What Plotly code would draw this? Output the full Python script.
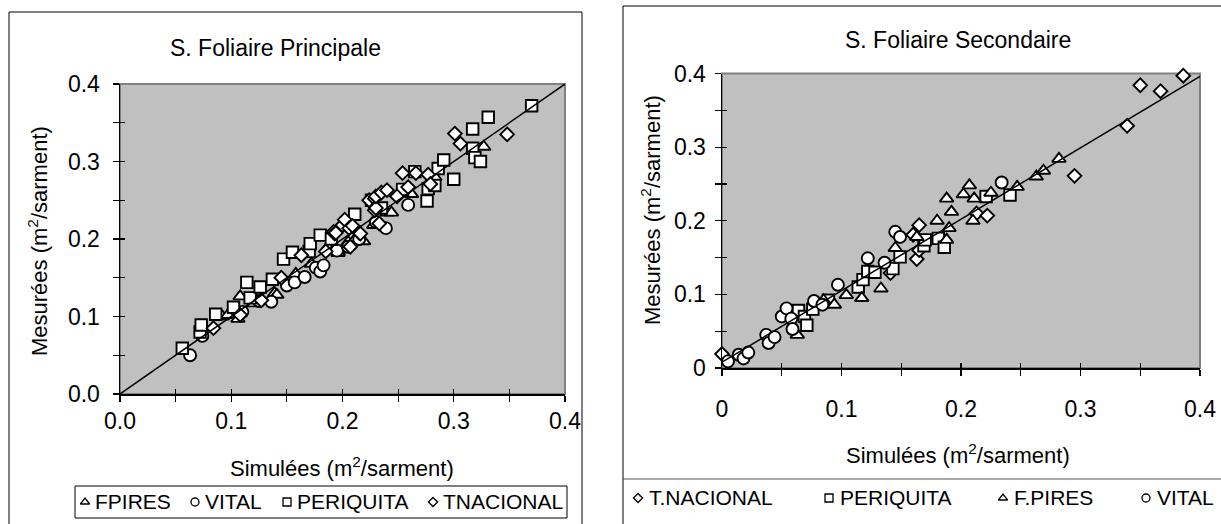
import plotly.graph_objects as go

# ---------------- Left panel: S. Foliaire Principale ----------------
fpires_sim_L = [0.092, 0.097, 0.106, 0.108, 0.120, 0.139, 0.141, 0.158, 0.172, 0.187, 0.196, 0.196, 0.205, 0.212, 0.219, 0.228, 0.240, 0.244, 0.262, 0.283, 0.327]
fpires_mes_L = [0.100, 0.102, 0.097, 0.126, 0.117, 0.130, 0.128, 0.155, 0.168, 0.190, 0.184, 0.182, 0.196, 0.201, 0.197, 0.218, 0.234, 0.234, 0.258, 0.280, 0.319]

vital_sim_L = [0.063, 0.074, 0.110, 0.125, 0.136, 0.150, 0.157, 0.166, 0.176, 0.180, 0.183, 0.195, 0.205, 0.215, 0.230, 0.239, 0.259]
vital_mes_L = [0.050, 0.075, 0.106, 0.120, 0.119, 0.140, 0.144, 0.151, 0.163, 0.158, 0.166, 0.185, 0.190, 0.200, 0.222, 0.214, 0.244]

periq_sim_L = [0.056, 0.072, 0.073, 0.086, 0.102, 0.114, 0.117, 0.126, 0.137, 0.147, 0.155, 0.170, 0.171, 0.180, 0.190, 0.211, 0.226, 0.235, 0.254, 0.265, 0.276, 0.277, 0.283, 0.286, 0.291, 0.300, 0.317, 0.317, 0.319, 0.324, 0.331, 0.370]
periq_mes_L = [0.059, 0.080, 0.089, 0.103, 0.112, 0.144, 0.124, 0.138, 0.148, 0.174, 0.183, 0.184, 0.194, 0.205, 0.200, 0.232, 0.250, 0.240, 0.264, 0.287, 0.249, 0.265, 0.269, 0.291, 0.302, 0.277, 0.342, 0.317, 0.305, 0.300, 0.357, 0.372]

tnac_sim_L = [0.084, 0.108, 0.127, 0.145, 0.163, 0.185, 0.192, 0.193, 0.194, 0.200, 0.202, 0.206, 0.207, 0.209, 0.215, 0.216, 0.224, 0.229, 0.229, 0.230, 0.230, 0.233, 0.235, 0.240, 0.249, 0.254, 0.259, 0.266, 0.277, 0.279, 0.301, 0.306, 0.348]
tnac_mes_L = [0.085, 0.102, 0.121, 0.150, 0.179, 0.184, 0.209, 0.207, 0.208, 0.218, 0.225, 0.214, 0.190, 0.217, 0.208, 0.207, 0.250, 0.237, 0.252, 0.240, 0.255, 0.220, 0.260, 0.263, 0.255, 0.285, 0.267, 0.285, 0.283, 0.271, 0.336, 0.323, 0.335]

line_x_L = [0.0, 0.4]
line_y_L = [0.0, 0.4]

# ---------------- Right panel: S. Foliaire Secondaire ----------------
tnac_sim_R = [0.000, 0.141, 0.160, 0.163, 0.165, 0.165, 0.213, 0.222, 0.295, 0.339, 0.350, 0.367, 0.386]
tnac_mes_R = [0.019, 0.129, 0.181, 0.148, 0.160, 0.194, 0.210, 0.207, 0.261, 0.329, 0.384, 0.376, 0.397]

periq_sim_R = [0.064, 0.069, 0.071, 0.076, 0.089, 0.114, 0.118, 0.122, 0.128, 0.143, 0.149, 0.169, 0.170, 0.181, 0.186, 0.221, 0.241]
periq_mes_R = [0.078, 0.070, 0.058, 0.080, 0.092, 0.110, 0.120, 0.131, 0.130, 0.135, 0.151, 0.166, 0.174, 0.176, 0.164, 0.233, 0.235]

fpires_sim_R = [0.063, 0.085, 0.094, 0.104, 0.117, 0.133, 0.145, 0.163, 0.180, 0.188, 0.188, 0.190, 0.192, 0.202, 0.207, 0.210, 0.211, 0.225, 0.247, 0.263, 0.269, 0.282]
fpires_mes_R = [0.045, 0.092, 0.086, 0.099, 0.095, 0.108, 0.163, 0.178, 0.200, 0.174, 0.230, 0.190, 0.212, 0.236, 0.248, 0.200, 0.230, 0.238, 0.246, 0.260, 0.268, 0.284]

vital_sim_R = [0.005, 0.014, 0.018, 0.022, 0.037, 0.039, 0.044, 0.050, 0.054, 0.058, 0.059, 0.077, 0.084, 0.097, 0.122, 0.136, 0.145, 0.149, 0.234]
vital_mes_R = [0.009, 0.018, 0.013, 0.021, 0.045, 0.034, 0.042, 0.070, 0.081, 0.067, 0.053, 0.091, 0.086, 0.113, 0.149, 0.143, 0.185, 0.178, 0.252]

fit_slope_R = 0.97
fit_intercept_R = 0.008
line_x_R = [0.0, 0.4]
line_y_R = [fit_intercept_R + fit_slope_R * v for v in line_x_R]

# tick labels
tick_vals = [0.0, 0.1, 0.2, 0.3, 0.4]
minor_vals = [0.05, 0.15, 0.25, 0.35]
tick_text_L = ["0.0", "0.1", "0.2", "0.3", "0.4"]
tick_text_R = ["0", "0.1", "0.2", "0.3", "0.4"]

legend_L = ["FPIRES", "VITAL", "PERIQUITA", "TNACIONAL"]
legend_R = ["T.NACIONAL", "PERIQUITA", "F.PIRES", "VITAL"]

W, H = 1221, 524
FONT = "Liberation Sans, Arial, sans-serif"
GRAY = "#C0C0C0"


def px(x):
    return x / W


def py(y):
    return 1 - y / H


fig = go.Figure()


def mk(symbol, size, lw=1.9):
    return dict(symbol=symbol, size=size, color="white", line=dict(color="black", width=lw))


SIZES = {"triangle-up": 12, "circle": 12, "square": 11.5, "diamond": 10.5}


def add_pts(x, y, symbol, xa, ya, name):
    fig.add_trace(go.Scatter(x=x, y=y, mode="markers", marker=mk(symbol, SIZES[symbol]),
                             xaxis=xa, yaxis=ya, name=name, showlegend=False, cliponaxis=False))


# left: drawn in legend order, line on top
add_pts(fpires_sim_L, fpires_mes_L, "triangle-up", "x", "y", legend_L[0])
add_pts(vital_sim_L, vital_mes_L, "circle", "x", "y", legend_L[1])
add_pts(periq_sim_L, periq_mes_L, "square", "x", "y", legend_L[2])
add_pts(tnac_sim_L, tnac_mes_L, "diamond", "x", "y", legend_L[3])
fig.add_trace(go.Scatter(x=line_x_L, y=line_y_L, mode="lines", line=dict(color="black", width=1.5),
                         xaxis="x", yaxis="y", showlegend=False, cliponaxis=False))

# right
add_pts(tnac_sim_R, tnac_mes_R, "diamond", "x2", "y2", legend_R[0])
add_pts(periq_sim_R, periq_mes_R, "square", "x2", "y2", legend_R[1])
add_pts(fpires_sim_R, fpires_mes_R, "triangle-up", "x2", "y2", legend_R[2])
add_pts(vital_sim_R, vital_mes_R, "circle", "x2", "y2", legend_R[3])
fig.add_trace(go.Scatter(x=line_x_R, y=line_y_R, mode="lines", line=dict(color="black", width=1.5),
                         xaxis="x2", yaxis="y2", showlegend=False, cliponaxis=False))

# empty traces so the inner-tick overlay axes get drawn (ticks cross the axis lines)
for xa, ya in (("x4", "y"), ("x", "y5"), ("x6", "y2"), ("x2", "y7")):
    fig.add_trace(go.Scatter(x=[], y=[], mode="markers", xaxis=xa, yaxis=ya, showlegend=False, hoverinfo="skip"))


def axis(domain, anchor, ticktext, standoff):
    return dict(domain=domain, anchor=anchor, range=[0, 0.4], tickvals=tick_vals, ticktext=ticktext,
                showgrid=False, zeroline=False, showline=True, linecolor="black", linewidth=1.5,
                ticks="outside", ticklen=6, tickwidth=1.2, tickcolor="black",
                minor=dict(tickvals=minor_vals, ticks="outside", ticklen=6, tickwidth=1.2, tickcolor="black"),
                tickfont=dict(family=FONT, size=23, color="black"), ticklabelstandoff=standoff,
                automargin=False, fixedrange=True)


def inner(over, anchor, side):
    return dict(overlaying=over, anchor=anchor, side=side, range=[0, 0.4], tickvals=tick_vals,
                showticklabels=False, showgrid=False, zeroline=False, showline=False,
                ticks="inside", ticklen=5, tickwidth=1.2, tickcolor="black",
                minor=dict(tickvals=minor_vals, ticks="inside", ticklen=5, tickwidth=1.2, tickcolor="black"),
                automargin=False, fixedrange=True)


# plot area pixel positions
L_x0, L_x1, L_y0, L_y1 = 120, 565, 84, 394
R_x0, R_x1, R_y0, R_y1 = 722, 1200, 73.5, 368

# legend key layer: a hidden overlay in pixel units of the canvas
legend_keys = {
    "L": dict(syms=["triangle-up", "circle", "square", "diamond"], x=[85, 195, 287, 433], y=502),
    "R": dict(syms=["diamond", "square", "triangle-up", "circle"], x=[638, 829, 1003, 1146], y=498),
}
for side, d in legend_keys.items():
    for s, xk in zip(d["syms"], d["x"]):
        fig.add_trace(go.Scatter(x=[xk], y=[d["y"]], mode="markers", marker=mk(s, 8 if s != "diamond" else 7, 1.3),
                                 xaxis="x3", yaxis="y3", showlegend=False, hoverinfo="skip", cliponaxis=False))

fig.update_layout(
    width=W, height=H, autosize=False,
    margin=dict(l=0, r=0, t=0, b=0, pad=0, autoexpand=False),
    paper_bgcolor="white", plot_bgcolor="rgba(0,0,0,0)", showlegend=False,
    xaxis=axis([px(L_x0), px(L_x1)], "y", tick_text_L, 0),
    yaxis=axis([py(L_y1), py(L_y0)], "x", tick_text_L, 8),
    xaxis2=axis([px(R_x0), px(R_x1)], "y2", tick_text_R, 14),
    yaxis2=axis([py(R_y1), py(R_y0)], "x2", tick_text_R, 4),
    xaxis3=dict(domain=[0, 1], range=[0, W], visible=False, anchor="y3", fixedrange=True),
    yaxis3=dict(domain=[0, 1], range=[H, 0], visible=False, anchor="x3", fixedrange=True),
    xaxis4=inner("x", "y", "bottom"),
    yaxis5=inner("y", "x", "left"),
    xaxis6=inner("x2", "y2", "bottom"),
    yaxis7=inner("y2", "x2", "left"),
)

shapes = []
# gray plot areas with gray frame (left/bottom covered by black axis lines)
for xr, yr in (("x domain", "y domain"), ("x2 domain", "y2 domain")):
    shapes.append(dict(type="rect", xref=xr, yref=yr, x0=0, x1=1, y0=0, y1=1, fillcolor=GRAY,
                       line=dict(color="#808080", width=2), layer="below"))
# outer chart boxes
shapes.append(dict(type="rect", xref="paper", yref="paper", x0=px(9), x1=px(582), y0=py(540), y1=py(12),
                   line=dict(color="black", width=1)))
shapes.append(dict(type="rect", xref="paper", yref="paper", x0=px(623), x1=px(1240), y0=py(540), y1=py(6),
                   line=dict(color="black", width=1)))
# legend boxes
shapes.append(dict(type="rect", xref="paper", yref="paper", x0=px(75), x1=px(567), y0=py(518), y1=py(486),
                   line=dict(color="black", width=1)))
shapes.append(dict(type="line", xref="paper", yref="paper", x0=px(623), x1=px(1221), y0=py(479), y1=py(479),
                   line=dict(color="#555555", width=1.2)))

ann = []


def text(x, y, t, size=20, angle=0, xanchor="center"):
    ann.append(dict(x=px(x), y=py(y), xref="paper", yref="paper", text=t, showarrow=False,
                    font=dict(family=FONT, size=size, color="black"), textangle=angle,
                    xanchor=xanchor, yanchor="middle"))


text(275, 48, "S. Foliaire Principale", 23)
text(958, 40, "S. Foliaire Secondaire", 23)
text(342, 467, "Simulées (m<sup>2</sup>/sarment)", 22)
text(958, 454, "Simulées (m<sup>2</sup>/sarment)", 22)
text(38, 241, "Mesurées (m<sup>2</sup>/sarment)", 22, angle=-90)
text(651, 210, "Mesurées (m<sup>2</sup>/sarment)", 22, angle=-90)

for lab, xk in zip(legend_L, legend_keys["L"]["x"]):
    text(xk + 8, 501, lab, 21, xanchor="left")
for lab, xk in zip(legend_R, legend_keys["R"]["x"]):
    text(xk + 9, 497, lab, 21, xanchor="left")

fig.update_layout(shapes=shapes, annotations=ann)
fig.write_html("out.html", config={"displayModeBar": False, "staticPlot": True},
               post_script="document.body.style.margin='0';document.body.style.overflow='hidden';")
